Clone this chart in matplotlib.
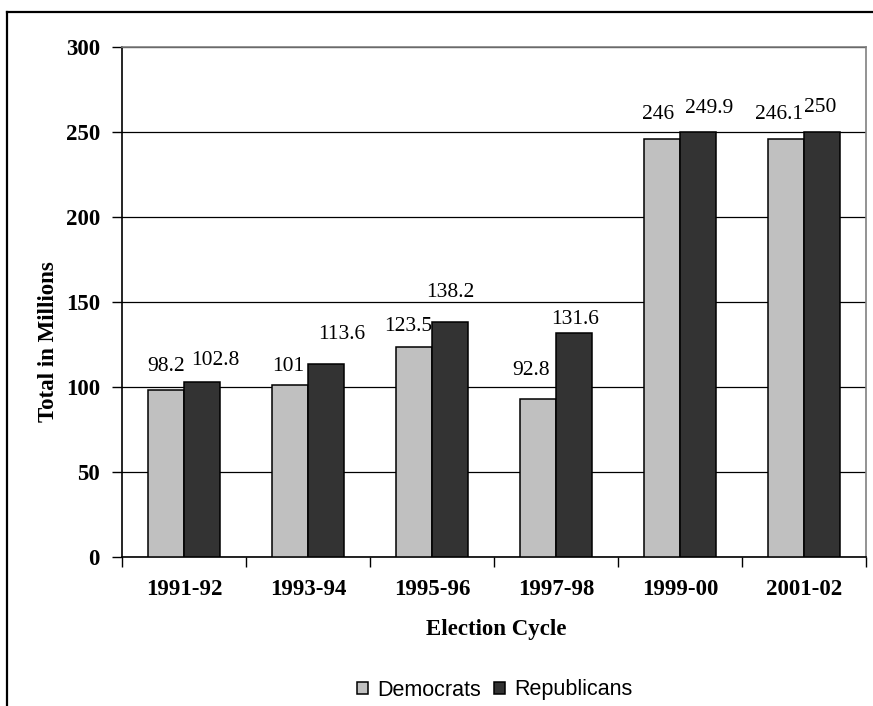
import numpy as np
import matplotlib.pyplot as plt
from matplotlib.lines import Line2D

# election cycles and totals (millions)
cycles = ['1991-92', '1993-94', '1995-96', '1997-98', '1999-00', '2001-02']
democrats = [98.2, 101, 123.5, 92.8, 246, 246.1]
republicans = [102.8, 113.6, 138.2, 131.6, 249.9, 250]
dem_labels = ['98.2', '101', '123.5', '92.8', '246', '246.1']
rep_labels = ['102.8', '113.6', '138.2', '131.6', '249.9', '250']

# label nudges in pixels (dx, dy from top of bar to text centre)
dem_offsets = [(0, 24), (-2, 19), (-6, 21), (-7, 29), (-4, 24), (-7, 24)]
rep_offsets = [(13, 22), (16, 29), (0, 30), (1, 14), (11, 24), (-2, 24)]

serif = 'Liberation Serif'
sans = 'Liberation Sans'

fig = plt.figure(figsize=(8.73, 7.06), dpi=100)
ax = fig.add_axes([122 / 873, 1 - 557 / 706, 744 / 873, 510 / 706])

x = np.arange(len(cycles))
w = 0.294
b1 = ax.bar(x - w / 2, democrats, w, color='#c0c0c0', edgecolor='black', linewidth=1.1,
            label='Democrats', zorder=3)
b2 = ax.bar(x + w / 2, republicans, w, color='#333333', edgecolor='black', linewidth=1.1,
            label='Republicans', zorder=3)

for bars, labels, offs in ((b1, dem_labels, dem_offsets), (b2, rep_labels, rep_offsets)):
    for rect, lab, (dx, dy) in zip(bars, labels, offs):
        ax.annotate(lab, (rect.get_x() + rect.get_width() / 2, rect.get_height()),
                    xytext=(dx, dy), textcoords='offset pixels',
                    ha='center', va='center', family=serif, fontsize=15.5)

ax.set_xlim(-0.5, len(cycles) - 0.5)
ax.set_ylim(0, 300)
ax.set_yticks(np.arange(0, 301, 50))
ax.yaxis.grid(True, color='black', linewidth=0.9, zorder=0)
ax.set_axisbelow(True)

# ticks between categories, labels centred
ax.set_xticks(np.arange(-0.5, len(cycles), 1.0))
ax.set_xticklabels([])
ax.set_xticks(x, minor=True)
ax.set_xticklabels(cycles, minor=True)
ax.tick_params(axis='x', which='major', direction='out', length=7, width=1, color='black')
ax.tick_params(axis='x', which='minor', length=0, pad=16)
ax.tick_params(axis='y', direction='out', length=7, width=1, pad=9)

for lab in ax.get_xticklabels(minor=True) + ax.get_yticklabels():
    lab.set_family(serif)
    lab.set_fontweight('bold')
    lab.set_fontsize(16.5)

ax.spines['left'].set_color('black')
ax.spines['bottom'].set_color('black')
ax.spines['top'].set_color('#808080')
ax.spines['right'].set_color('#808080')
for s in ax.spines.values():
    s.set_linewidth(1.2)

fig.text(49 / 873, 1 - 342 / 706, 'Total in Millions', rotation=90, ha='center', va='center',
         family=serif, fontweight='bold', fontsize=16.5)
fig.text(496 / 873, 1 - 630 / 706, 'Election Cycle', ha='center', va='center',
         family=serif, fontweight='bold', fontsize=16.5)

fig.legend(handles=[b1, b2], loc='center', bbox_to_anchor=(495 / 873, 1 - 690 / 706),
           ncol=2, frameon=False, prop={'family': sans, 'size': 15.5},
           handlelength=0.5, handleheight=0.5, handletextpad=0.45, columnspacing=0.6)

# outer chart border (left and top)
fig.add_artist(Line2D([7 / 873, 7 / 873], [0, 1 - 11.5 / 706], transform=fig.transFigure,
                      color='black', linewidth=1.6))
fig.add_artist(Line2D([7 / 873, 1], [1 - 11.5 / 706, 1 - 11.5 / 706], transform=fig.transFigure,
                      color='black', linewidth=1.6))

fig.savefig('out.png', dpi=100)
